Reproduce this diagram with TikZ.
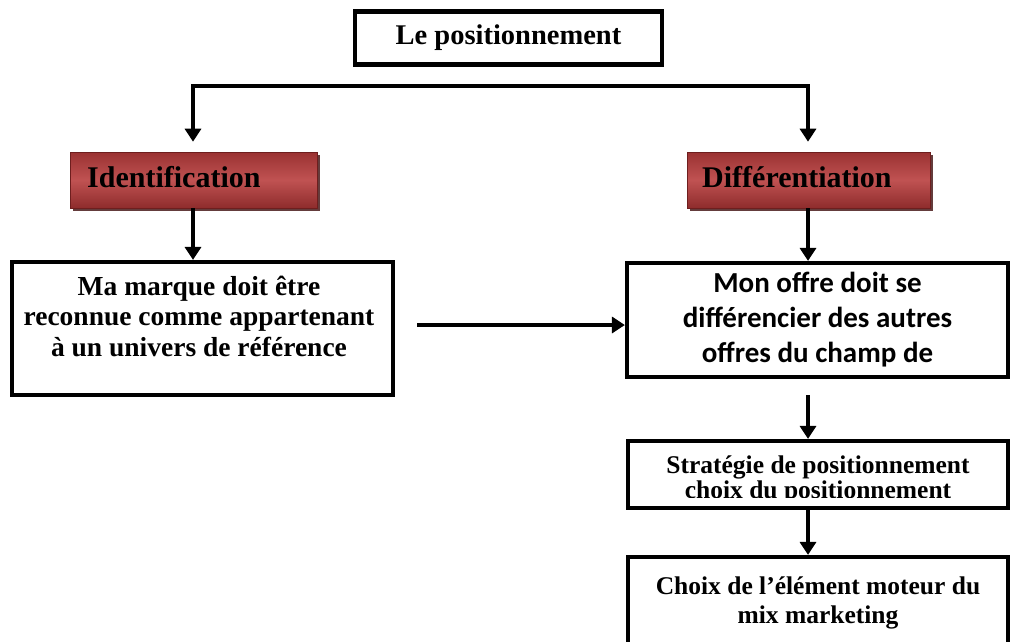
\documentclass[tikz,border=0pt]{standalone}
\usepackage{fontspec}
\setmainfont{Liberation Serif}
\newfontfamily\sansbold{Carlito}
\usetikzlibrary{arrows.meta,shadows}

\definecolor{redtop}{HTML}{9A3232}
\definecolor{redmid}{HTML}{C05252}
\definecolor{redbot}{HTML}{8E2C2C}
\definecolor{redline}{HTML}{6E1E1E}
\definecolor{redshadow}{HTML}{4A1A1A}

\begin{document}
\begin{tikzpicture}[x=1pt,y=-1pt,
  frame/.style={draw=black, line width=4.2pt, fill=white, inner sep=0pt, align=center},
  redbox/.style={draw=redline, line width=0.6pt, top color=redtop, bottom color=redbot,
    middle color=redmid, inner sep=0pt,
    drop shadow={shadow xshift=3pt, shadow yshift=-3pt, fill=redshadow, opacity=0.85}},
  serifbig/.style={font=\fontsize{28.5}{33}\selectfont\bfseries},
  seriflabel/.style={font=\fontsize{30}{34}\selectfont\bfseries},
  serifmid/.style={font=\fontsize{27.5}{30.5}\selectfont\bfseries, align=center},
  link/.style={line width=3.8pt, -{Triangle[width=16pt,length=13pt]}},
  twolinks/.style={line width=3.8pt, {Triangle[width=16pt,length=13pt]}-{Triangle[width=16pt,length=13pt]}}
]
\useasboundingbox[fill=white] (0,0) rectangle (1011,641);
\clip (0,0) rectangle (1011,641);

% title
\node[frame, minimum width=307pt, minimum height=53pt, serifbig] (top) at (508.5,38) {Le positionnement};

% the two branches
\node[redbox, minimum width=247pt, minimum height=56pt] (idbox) at (193.5,180) {};
\node[seriflabel, anchor=west, inner sep=0pt] (idtxt) at (87,177) {Identification};
\node[redbox, minimum width=243pt, minimum height=56pt] (diffbox) at (808.5,180) {};
\node[seriflabel, anchor=west, inner sep=0pt] (difftxt) at (702,177) {Différentiation};

\coordinate (bl) at (193,86);
\coordinate (br) at (808,86);
\draw[twolinks, shorten <=10pt, shorten >=10pt]
  (bl |- idbox.north) -- (bl) -- (br) -- (br |- diffbox.north);

% left column
\node[frame, minimum width=381pt, minimum height=133pt] (mm) at (202.5,328.5) {};
\node[serifmid] (mmtxt) at (199,316) {Ma marque doit être\\reconnue comme appartenant\\à un univers de référence};
\draw[link] (idbox.south -| bl) -- (mm.north -| bl);

% right column
\node[frame, minimum width=381pt, minimum height=114pt,
  font=\sansbold\fontsize{29}{35}\selectfont\bfseries] (mo) at (817.5,320)
  {Mon offre doit se\\différencier des autres\\offres du champ de};
\draw[link] (diffbox.south -| br) -- (mo.north -| br);
\draw[link, shorten <=22pt] ([yshift=-5pt]mo.west -| mm.east) -- ([yshift=-5pt]mo.west);

\node[frame, minimum width=380pt, minimum height=67pt] (st) at (818,474.5) {};
\begin{scope}
  \clip (630,443) rectangle (1006,497);
  \node[serifmid, font=\fontsize{25.5}{25}\selectfont\bfseries] (sttxt) at (818,480)
    {Stratégie de positionnement\\choix du positionnement};
\end{scope}
\draw[link, shorten <=16pt] (mo.south -| br) -- (st.north -| br);

\node[frame, minimum width=380pt, minimum height=110pt] (ch) at (818,612) {};
\node[serifmid, font=\fontsize{25.5}{29}\selectfont\bfseries] (chtxt) at (818,603) {Choix de l’élément moteur du\\mix marketing};
\draw[link] (st.south -| br) -- (ch.north -| br);
\end{tikzpicture}
\end{document}
